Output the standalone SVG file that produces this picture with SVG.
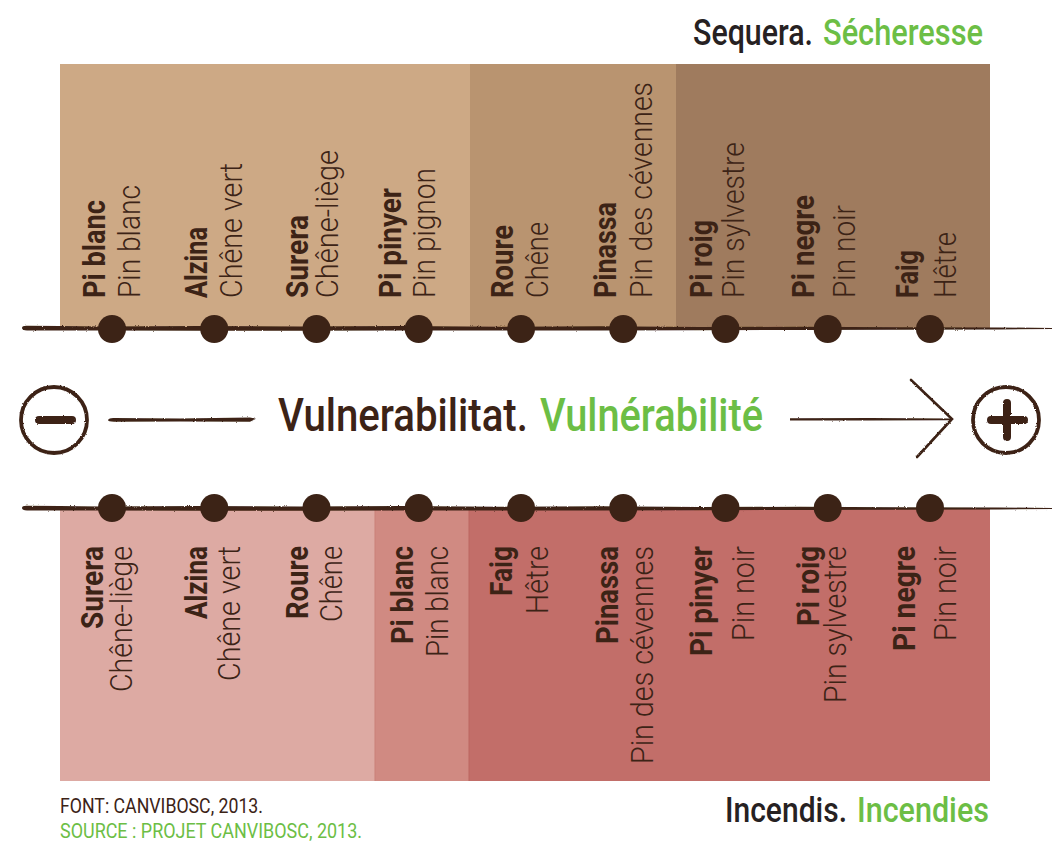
<svg xmlns="http://www.w3.org/2000/svg" width="1055" height="842" viewBox="0 0 1055 842">
<defs>
<style>
.b{font-family:Roboto,"Liberation Sans",sans-serif;font-weight:700;font-size:31px;fill:#3C2316}
.r{font-family:Roboto,"Liberation Sans",sans-serif;font-weight:300;font-size:32px;fill:#3C2316}
.e{text-anchor:end}
.dot{fill:#3C2316}
.ttl{font-family:Roboto,"Liberation Sans",sans-serif;font-weight:500}
.dk{fill:#3C2316}
.bk{fill:#262122}
.gr{fill:#6CBE45}
.src{font-family:Roboto,"Liberation Sans",sans-serif;font-weight:400;font-size:20px}
.ln{fill:#3C2316}
.stk{fill:none;stroke:#3C2316;stroke-linecap:round}
</style>
<filter id="rough" x="0" y="0" width="1055" height="842" filterUnits="userSpaceOnUse">
<feTurbulence type="fractalNoise" baseFrequency="0.9" numOctaves="2" seed="4" result="n"/>
<feDisplacementMap in="SourceGraphic" in2="n" scale="2.2" xChannelSelector="R" yChannelSelector="G"/>
</filter>
</defs>
<rect width="1055" height="842" fill="#ffffff"/>

<g id="panel-top">
<rect x="60" y="64" width="410" height="264" fill="#CDA985"/>
<rect x="470" y="64" width="206" height="264" fill="#B99470"/>
<rect x="676" y="64" width="314" height="264" fill="#9F7B5E"/>
</g>
<g id="panel-bottom">
<rect x="60" y="508" width="315" height="273" fill="#DDAAA3"/>
<rect x="375" y="508" width="94" height="273" fill="#D08A82"/>
<rect x="469" y="508" width="521" height="273" fill="#C26E69"/>
<rect x="374.5" y="508" width="1" height="273" fill="#C98079"/>
<rect x="468.5" y="508" width="1" height="273" fill="#BC6661"/>
</g>

<g id="title-top">
<text class="ttl bk" font-size="37" transform="translate(693,45) scale(0.83,1)" textLength="144.6" lengthAdjust="spacingAndGlyphs">Sequera.</text>
<text class="ttl gr" font-size="37" transform="translate(823,45) scale(0.84,1)" textLength="190.5" lengthAdjust="spacingAndGlyphs">Sécheresse</text>
</g>
<g id="title-bottom">
<text class="ttl bk" font-size="35" transform="translate(725,822) scale(0.87,1)" textLength="140.2" lengthAdjust="spacingAndGlyphs">Incendis.</text>
<text class="ttl gr" font-size="35" transform="translate(857,822) scale(0.87,1)" textLength="151.7" lengthAdjust="spacingAndGlyphs">Incendies</text>
</g>
<g id="axis-title">
<text class="ttl dk" font-size="46" transform="translate(278,431) scale(0.88,1)" textLength="284" lengthAdjust="spacingAndGlyphs">Vulnerabilitat.</text>
<text class="ttl gr" font-size="46" transform="translate(540,431) scale(0.88,1)" textLength="253.4" lengthAdjust="spacingAndGlyphs">Vulnérabilité</text>
</g>
<g id="source">
<text class="src dk" x="60" y="813" textLength="203" lengthAdjust="spacingAndGlyphs">FONT: CANVIBOSC, 2013.</text>
<text class="src gr" x="60" y="838" textLength="302" lengthAdjust="spacingAndGlyphs">SOURCE : PROJET CANVIBOSC, 2013.</text>
</g>

<g id="connectors" filter="url(#rough)">
<path class="ln" d="M22,328 Q22,325.6 27,325.8 L60,326 L100,326.4 L200,325.9 L300,326.5 L400,326 L500,326.8 L600,326.3 L700,327 L800,326.8 L900,327.2 L1000,327.5 L1052,327.9 L1052,329 L1000,329.4 L900,329.8 L800,330 L700,330.3 L600,330.5 L500,330.6 L400,330.4 L300,330.7 L200,330.8 L100,330.5 L60,330.6 L27,330.4 Q22,330.4 22,328 Z"/>
<path class="ln" d="M22,508 Q22,505.6 27,505.8 L60,506 L100,506.4 L200,505.9 L300,506.5 L400,506 L500,506.8 L600,506.3 L700,507 L800,506.8 L900,507.2 L1000,507.5 L1052,507.9 L1052,509 L1000,509.4 L900,509.8 L800,510 L700,510.3 L600,510.5 L500,510.6 L400,510.4 L300,510.7 L200,510.8 L100,510.5 L60,510.6 L27,510.4 Q22,510.4 22,508 Z"/>
<path class="ln" d="M108,420 Q109,417.8 114,418 L180,418.4 L250,417.6 L256,418.8 L250,421.8 L180,421.6 L114,421.8 Q108,421.5 108,420 Z"/>
<path class="ln" d="M790,418.2 L870,418 L952,418.6 L952,420.2 L870,420.5 L790,420.6 Z"/>
<path class="stk" stroke-width="2.6" d="M911,380 L952,419 L917,457"/>
</g>

<g id="minus" filter="url(#rough)">
<circle cx="54" cy="420" r="33" fill="none" stroke="#3C2316" stroke-width="3.8"/>
<rect x="35" y="416" width="41" height="8" rx="4" fill="#3C2316"/>
</g>
<g id="plus" filter="url(#rough)">
<circle cx="1006" cy="420" r="33" fill="none" stroke="#3C2316" stroke-width="3.8"/>
<rect x="987" y="416" width="41" height="8" rx="4" fill="#3C2316"/>
<rect x="1003" y="399" width="8" height="42" rx="4" fill="#3C2316"/>
</g>

<g id="top-pi-blanc"><circle class="dot" cx="112" cy="329" r="14"/>
<text class="b" transform="translate(105,298) rotate(-90)" textLength="98" lengthAdjust="spacingAndGlyphs">Pi blanc</text>
<text class="r" transform="translate(140,298) rotate(-90)" textLength="113" lengthAdjust="spacingAndGlyphs">Pin blanc</text></g>
<g id="top-alzina"><circle class="dot" cx="214.25" cy="329" r="14"/>
<text class="b" transform="translate(207,298) rotate(-90)" textLength="71" lengthAdjust="spacingAndGlyphs">Alzina</text>
<text class="r" transform="translate(242,298) rotate(-90)" textLength="135" lengthAdjust="spacingAndGlyphs">Chêne vert</text></g>
<g id="top-surera"><circle class="dot" cx="316.5" cy="329" r="14"/>
<text class="b" transform="translate(308,298) rotate(-90)" textLength="83" lengthAdjust="spacingAndGlyphs">Surera</text>
<text class="r" transform="translate(338,298) rotate(-90)" textLength="148" lengthAdjust="spacingAndGlyphs">Chêne-liège</text></g>
<g id="top-pi-pinyer"><circle class="dot" cx="418.75" cy="329" r="14"/>
<text class="b" transform="translate(401,298) rotate(-90)" textLength="110" lengthAdjust="spacingAndGlyphs">Pi pinyer</text>
<text class="r" transform="translate(435,298) rotate(-90)" textLength="130" lengthAdjust="spacingAndGlyphs">Pin pignon</text></g>
<g id="top-roure"><circle class="dot" cx="521" cy="329" r="14"/>
<text class="b" transform="translate(513,298) rotate(-90)" textLength="73" lengthAdjust="spacingAndGlyphs">Roure</text>
<text class="r" transform="translate(548,298) rotate(-90)" textLength="76" lengthAdjust="spacingAndGlyphs">Chêne</text></g>
<g id="top-pinassa"><circle class="dot" cx="623.25" cy="329" r="14"/>
<text class="b" transform="translate(616,298) rotate(-90)" textLength="96" lengthAdjust="spacingAndGlyphs">Pinassa</text>
<text class="r" transform="translate(652,298) rotate(-90)" textLength="216" lengthAdjust="spacingAndGlyphs">Pin des cévennes</text></g>
<g id="top-pi-roig"><circle class="dot" cx="725.5" cy="329" r="14"/>
<text class="b" transform="translate(711.5,298) rotate(-90)" textLength="78" lengthAdjust="spacingAndGlyphs">Pi roig</text>
<text class="r" transform="translate(743.5,298) rotate(-90)" textLength="156" lengthAdjust="spacingAndGlyphs">Pin sylvestre</text></g>
<g id="top-pi-negre"><circle class="dot" cx="827.75" cy="329" r="14"/>
<text class="b" transform="translate(813.5,298) rotate(-90)" textLength="103" lengthAdjust="spacingAndGlyphs">Pi negre</text>
<text class="r" transform="translate(855,298) rotate(-90)" textLength="93" lengthAdjust="spacingAndGlyphs">Pin noir</text></g>
<g id="top-faig"><circle class="dot" cx="930" cy="329" r="14"/>
<text class="b" transform="translate(918,298) rotate(-90)" textLength="48" lengthAdjust="spacingAndGlyphs">Faig</text>
<text class="r" transform="translate(956,298) rotate(-90)" textLength="66" lengthAdjust="spacingAndGlyphs">Hêtre</text></g>

<g id="bot-surera"><circle class="dot" cx="112" cy="508" r="14"/>
<text class="b e" transform="translate(103,546) rotate(-90)" textLength="83" lengthAdjust="spacingAndGlyphs">Surera</text>
<text class="r e" transform="translate(131.5,546) rotate(-90)" textLength="146" lengthAdjust="spacingAndGlyphs">Chêne-liège</text></g>
<g id="bot-alzina"><circle class="dot" cx="214.25" cy="508" r="14"/>
<text class="b e" transform="translate(207,546) rotate(-90)" textLength="73" lengthAdjust="spacingAndGlyphs">Alzina</text>
<text class="r e" transform="translate(240,546) rotate(-90)" textLength="135" lengthAdjust="spacingAndGlyphs">Chêne vert</text></g>
<g id="bot-roure"><circle class="dot" cx="316.5" cy="508" r="14"/>
<text class="b e" transform="translate(308,546) rotate(-90)" textLength="73" lengthAdjust="spacingAndGlyphs">Roure</text>
<text class="r e" transform="translate(342,546) rotate(-90)" textLength="76" lengthAdjust="spacingAndGlyphs">Chêne</text></g>
<g id="bot-pi-blanc"><circle class="dot" cx="418.75" cy="508" r="14"/>
<text class="b e" transform="translate(413,546) rotate(-90)" textLength="98" lengthAdjust="spacingAndGlyphs">Pi blanc</text>
<text class="r e" transform="translate(448,546) rotate(-90)" textLength="111" lengthAdjust="spacingAndGlyphs">Pin blanc</text></g>
<g id="bot-faig"><circle class="dot" cx="521" cy="508" r="14"/>
<text class="b e" transform="translate(511.5,546) rotate(-90)" textLength="50" lengthAdjust="spacingAndGlyphs">Faig</text>
<text class="r e" transform="translate(548,546) rotate(-90)" textLength="68" lengthAdjust="spacingAndGlyphs">Hêtre</text></g>
<g id="bot-pinassa"><circle class="dot" cx="623.25" cy="508" r="14"/>
<text class="b e" transform="translate(618,546) rotate(-90)" textLength="98" lengthAdjust="spacingAndGlyphs">Pinassa</text>
<text class="r e" transform="translate(652.5,546) rotate(-90)" textLength="218" lengthAdjust="spacingAndGlyphs">Pin des cévennes</text></g>
<g id="bot-pi-pinyer"><circle class="dot" cx="725.5" cy="508" r="14"/>
<text class="b e" transform="translate(711.5,546) rotate(-90)" textLength="110" lengthAdjust="spacingAndGlyphs">Pi pinyer</text>
<text class="r e" transform="translate(754,546) rotate(-90)" textLength="95" lengthAdjust="spacingAndGlyphs">Pin noir</text></g>
<g id="bot-pi-roig"><circle class="dot" cx="827.75" cy="508" r="14"/>
<text class="b e" transform="translate(818.5,546) rotate(-90)" textLength="80" lengthAdjust="spacingAndGlyphs">Pi roig</text>
<text class="r e" transform="translate(845.5,546) rotate(-90)" textLength="157" lengthAdjust="spacingAndGlyphs">Pin sylvestre</text></g>
<g id="bot-pi-negre"><circle class="dot" cx="930" cy="508" r="14"/>
<text class="b e" transform="translate(914.5,546) rotate(-90)" textLength="105" lengthAdjust="spacingAndGlyphs">Pi negre</text>
<text class="r e" transform="translate(955.5,546) rotate(-90)" textLength="95" lengthAdjust="spacingAndGlyphs">Pin noir</text></g>
</svg>
